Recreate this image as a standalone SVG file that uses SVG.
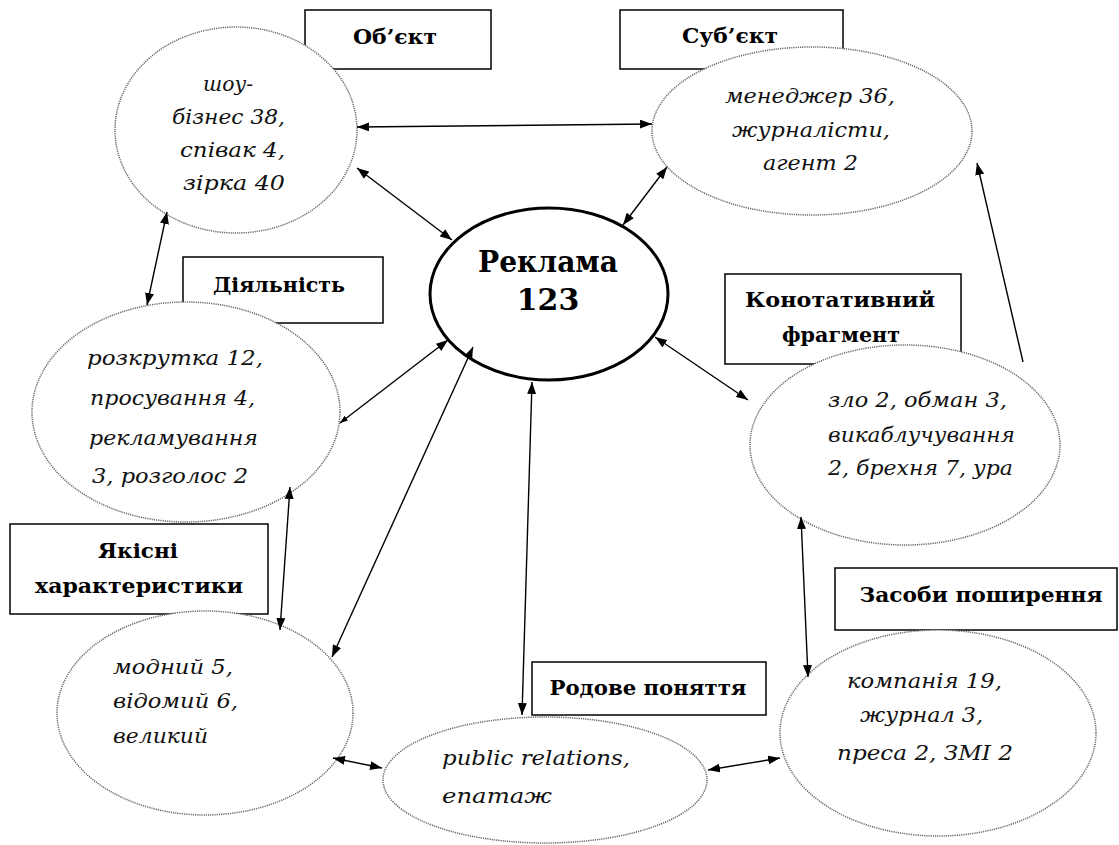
<svg xmlns="http://www.w3.org/2000/svg" width="1119" height="845" viewBox="0 0 1119 845">
<defs>
<marker id="ah" viewBox="0 0 12 9" refX="12" refY="4.5" markerWidth="12" markerHeight="9" markerUnits="userSpaceOnUse" orient="auto-start-reverse"><path d="M0,0 L12,4.5 L0,9 z" fill="#000"/></marker>
<marker id="ahs" viewBox="0 0 8 6" refX="8" refY="3" markerWidth="8" markerHeight="6" markerUnits="userSpaceOnUse" orient="auto-start-reverse"><path d="M0,0 L8,3 L0,6 z" fill="#000"/></marker>
</defs>
<style>
.box{fill:#fff;stroke:#000;stroke-width:1.5}
.ell{fill:#fff;stroke:#666;stroke-width:1.5;stroke-dasharray:1.2 1}
.main{fill:#fff;stroke:#000;stroke-width:3}
.lbl{font-family:"DejaVu Serif","Liberation Serif",serif;font-weight:bold;font-size:20px;fill:#000;text-anchor:middle}
.big{font-size:30px}
.it{font-family:"DejaVu Serif","Liberation Serif",serif;font-style:italic;font-size:21px;fill:#111}
.con{stroke:#000;stroke-width:1.4;fill:none}
</style>
<rect width="1119" height="845" fill="#fff"/>

<g id="object">
<rect class="box" x="305" y="10" width="186" height="59"/>
<text class="lbl" x="395" y="44" textLength="84" lengthAdjust="spacingAndGlyphs">Об’єкт</text>
<ellipse class="ell" cx="236" cy="130" rx="121" ry="103"/>
<text class="it" x="203" y="91" textLength="50" lengthAdjust="spacingAndGlyphs">шоу-</text>
<text class="it" x="172" y="124" textLength="113" lengthAdjust="spacingAndGlyphs">бізнес 38,</text>
<text class="it" x="180" y="157" textLength="105" lengthAdjust="spacingAndGlyphs">співак 4,</text>
<text class="it" x="183" y="190" textLength="102" lengthAdjust="spacingAndGlyphs">зірка 40</text>
</g>

<g id="subject">
<rect class="box" x="620" y="10" width="223" height="59"/>
<text class="lbl" x="730" y="43" textLength="96" lengthAdjust="spacingAndGlyphs">Суб’єкт</text>
<ellipse class="ell" cx="812" cy="131" rx="160" ry="84"/>
<text class="it" x="725" y="103" textLength="170" lengthAdjust="spacingAndGlyphs">менеджер 36,</text>
<text class="it" x="732" y="137" textLength="158" lengthAdjust="spacingAndGlyphs">журналісти,</text>
<text class="it" x="763" y="170" textLength="95" lengthAdjust="spacingAndGlyphs">агент 2</text>
</g>

<g id="activity">
<rect class="box" x="183" y="257" width="200" height="66"/>
<text class="lbl" x="279" y="292" textLength="132" lengthAdjust="spacingAndGlyphs">Діяльність</text>
<ellipse class="ell" cx="186" cy="412" rx="154" ry="110"/>
<text class="it" x="87" y="365" textLength="176" lengthAdjust="spacingAndGlyphs">розкрутка 12,</text>
<text class="it" x="90" y="405" textLength="165" lengthAdjust="spacingAndGlyphs">просування 4,</text>
<text class="it" x="89" y="445" textLength="169" lengthAdjust="spacingAndGlyphs">рекламування</text>
<text class="it" x="92" y="483" textLength="156" lengthAdjust="spacingAndGlyphs">3, розголос 2</text>
</g>

<g id="quality">
<rect class="box" x="10" y="524" width="258" height="90"/>
<text class="lbl" x="138" y="558" textLength="80" lengthAdjust="spacingAndGlyphs">Якісні</text>
<text class="lbl" x="139" y="593" textLength="208" lengthAdjust="spacingAndGlyphs">характеристики</text>
<ellipse class="ell" cx="205" cy="713" rx="148" ry="102"/>
<text class="it" x="113" y="674" textLength="120" lengthAdjust="spacingAndGlyphs">модний 5,</text>
<text class="it" x="113" y="708" textLength="125" lengthAdjust="spacingAndGlyphs">відомий 6,</text>
<text class="it" x="113" y="743" textLength="95" lengthAdjust="spacingAndGlyphs">великий</text>
</g>

<g id="genus">
<rect class="box" x="532" y="662" width="234" height="53"/>
<text class="lbl" x="648" y="695" textLength="197" lengthAdjust="spacingAndGlyphs">Родове поняття</text>
<ellipse class="ell" cx="545" cy="780" rx="162" ry="63"/>
<text class="it" x="442" y="765" textLength="188" lengthAdjust="spacingAndGlyphs">public relations,</text>
<text class="it" x="442" y="803" textLength="110" lengthAdjust="spacingAndGlyphs">епатаж</text>
</g>

<g id="connotative">
<rect class="box" x="725" y="274" width="236" height="90"/>
<text class="lbl" x="840" y="307" textLength="190" lengthAdjust="spacingAndGlyphs">Конотативний</text>
<text class="lbl" x="841" y="342" textLength="118" lengthAdjust="spacingAndGlyphs">фрагмент</text>
<ellipse class="ell" cx="905" cy="445" rx="155" ry="100"/>
<text class="it" x="828" y="407" textLength="179" lengthAdjust="spacingAndGlyphs">зло 2, обман 3,</text>
<text class="it" x="828" y="442" textLength="187" lengthAdjust="spacingAndGlyphs">викаблучування</text>
<text class="it" x="828" y="475" textLength="185" lengthAdjust="spacingAndGlyphs">2, брехня 7, ура</text>
</g>

<g id="media">
<rect class="box" x="835" y="568" width="282" height="62"/>
<text class="lbl" x="981" y="602" textLength="243" lengthAdjust="spacingAndGlyphs">Засоби поширення</text>
<ellipse class="ell" cx="938" cy="733" rx="158" ry="103"/>
<text class="it" x="847" y="688" textLength="155" lengthAdjust="spacingAndGlyphs">компанія 19,</text>
<text class="it" x="860" y="722" textLength="123" lengthAdjust="spacingAndGlyphs">журнал 3,</text>
<text class="it" x="837" y="760" textLength="176" lengthAdjust="spacingAndGlyphs">преса 2, ЗМІ 2</text>
</g>

<g id="advertising">
<ellipse class="main" cx="549" cy="294" rx="119" ry="86"/>
<text class="lbl big" x="548" y="272" textLength="140" lengthAdjust="spacingAndGlyphs">Реклама</text>
<text class="lbl big" x="548" y="310">123</text>
</g>

<g id="connectors" class="con">
<line x1="357" y1="127" x2="652" y2="124" marker-start="url(#ah)" marker-end="url(#ah)"/>
<line x1="357" y1="168" x2="452" y2="240" marker-start="url(#ah)" marker-end="url(#ah)"/>
<line x1="667" y1="167" x2="623" y2="225" marker-start="url(#ah)" marker-end="url(#ah)"/>
<line x1="167" y1="212" x2="147" y2="305" marker-start="url(#ah)" marker-end="url(#ah)"/>
<line x1="340" y1="423" x2="448" y2="340" marker-start="url(#ahs)" marker-end="url(#ah)"/>
<line x1="473" y1="347" x2="332" y2="657" marker-start="url(#ah)" marker-end="url(#ah)"/>
<line x1="290" y1="487" x2="280" y2="630" marker-start="url(#ah)" marker-end="url(#ah)"/>
<line x1="532" y1="382" x2="522" y2="715" marker-start="url(#ah)" marker-end="url(#ah)"/>
<line x1="333" y1="758" x2="382" y2="768" marker-start="url(#ah)" marker-end="url(#ah)"/>
<line x1="708" y1="770" x2="780" y2="758" marker-start="url(#ah)" marker-end="url(#ah)"/>
<line x1="655" y1="337" x2="748" y2="400" marker-start="url(#ah)" marker-end="url(#ah)"/>
<line x1="801" y1="517" x2="808" y2="677" marker-start="url(#ah)" marker-end="url(#ah)"/>
<line x1="1023" y1="362" x2="977" y2="163" marker-end="url(#ah)"/>
</g>
</svg>
